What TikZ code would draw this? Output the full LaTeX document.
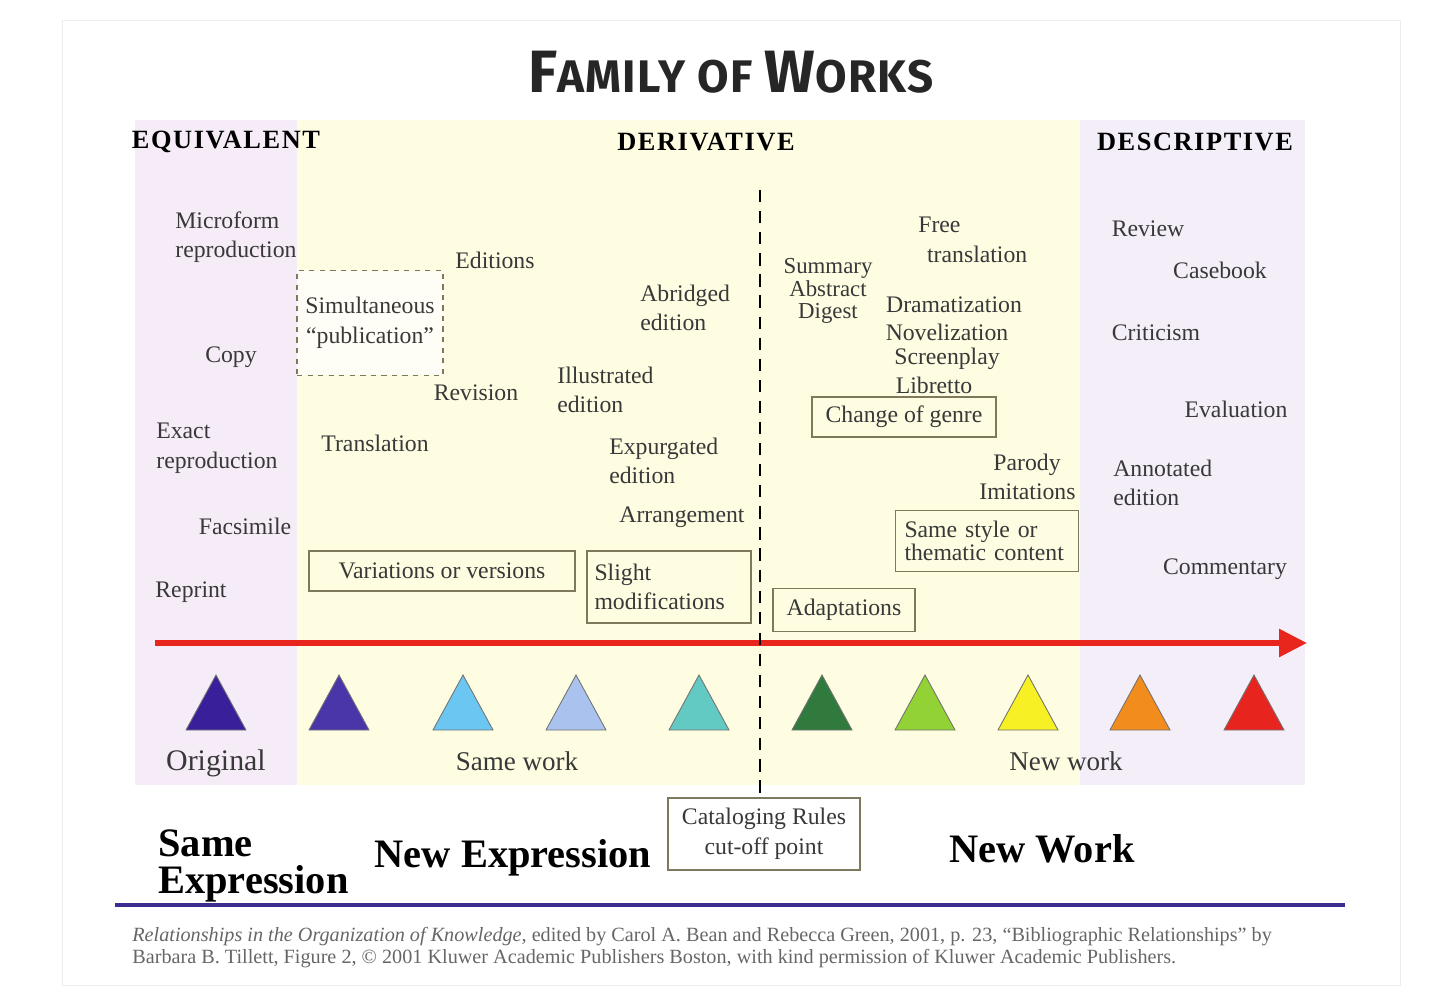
\documentclass[tikz,border=0pt]{standalone}
\usepackage{fontspec}
\setmainfont{Liberation Serif}
\newfontfamily\titlefont[LetterSpace=3]{Fira Sans}
\newfontfamily\hdfont[LetterSpace=6]{Liberation Serif}
\usetikzlibrary{arrows.meta}

\definecolor{equivbg}{HTML}{F5ECF7}
\definecolor{derivbg}{HTML}{FEFDE2}
\definecolor{descrbg}{HTML}{F4EEF8}
\definecolor{boxline}{HTML}{7E785C}
\definecolor{txt}{HTML}{383838}
\definecolor{arrowred}{HTML}{E8261E}
\definecolor{rulepurple}{HTML}{3B2D8F}
\definecolor{triA}{HTML}{3A1F9A}
\definecolor{triB}{HTML}{4A36A8}
\definecolor{triC}{HTML}{6CC6F2}
\definecolor{triD}{HTML}{AAC2EE}
\definecolor{triE}{HTML}{62CAC2}
\definecolor{triF}{HTML}{2F7A3C}
\definecolor{triG}{HTML}{92D234}
\definecolor{triH}{HTML}{F6F024}
\definecolor{triI}{HTML}{F28C1C}
\definecolor{triJ}{HTML}{E8241E}

\begin{document}
\begin{tikzpicture}[x=0.02cm,y=-0.02cm,
    lbl/.style={text=txt,inner sep=0pt,font=\fontsize{13.5}{16.8}\selectfont},
    lblw/.style={lbl,anchor=west,align=left},
    rbox/.style={draw=boxline,line width=0.8pt,text=txt,inner sep=0pt,
        font=\fontsize{13.5}{16.8}\selectfont},
    head/.style={inner sep=0pt,font=\hdfont\bfseries\fontsize{15}{18}\selectfont},
    big/.style={inner sep=0pt,font=\bfseries\fontsize{23}{21.5}\selectfont},
    tri/.style={draw=black!55,line width=0.5pt}]

    \useasboundingbox (0,0) rectangle (1444,990);
    \draw[black!7] (62,20) rectangle (1400,985);

    % backgrounds
    \fill[equivbg] (135,120) rectangle (297,785);
    \fill[derivbg] (297,120) rectangle (1080,785);
    \fill[descrbg] (1080,120) rectangle (1305,785);

    \node[inner sep=0pt,text=black!85] (title) at (731,72) {\titlefont\bfseries
        {\fontsize{34}{34}\selectfont F}{\fontsize{26}{26}\selectfont AMILY OF }{\fontsize{34}{34}\selectfont W}{\fontsize{26}{26}\selectfont ORKS}};

    \node[head] (equiv) at (226,142) {EQUIVALENT};
    \node[head] (deriv) at (706,142) {DERIVATIVE};
    \node[head] (descr) at (1195,142) {DESCRIPTIVE};

    % equivalent
    \node[lblw] (micro) at (175,237) {Microform\\reproduction};
    \node[lbl] (copy) at (231,357) {Copy};
    \node[lblw] (exact) at (156,448) {Exact\\reproduction};
    \node[lbl] (facs) at (245,526) {Facsimile};
    \node[lbl] (reprint) at (191,592) {Reprint};

    % derivative, same work
    \node[rbox,dashed,fill=white!70!derivbg,align=center,minimum width=2.92cm,minimum height=2.1cm] (simul) at (370,323)
        {Simultaneous\\``publication''};
    \node[lbl] (editions) at (495,260) {Editions};
    \node[lbl] (revision) at (476,393) {Revision};
    \node[lbl] (transl) at (375,443) {Translation};
    \node[lblw] (abridged) at (640,308) {Abridged\\edition};
    \node[lblw] (illus) at (557,390) {Illustrated\\edition};
    \node[lblw] (expurg) at (609,461) {Expurgated\\edition};
    \node[lbl] (arrange) at (682,517) {Arrangement};
    \node[rbox,minimum width=5.32cm,minimum height=0.8cm] (variat) at (442,571) {Variations or versions};
    \node[rbox,align=left,minimum width=3.28cm,minimum height=1.44cm,text width=2.98cm] (slight) at (669,587)
        {Slight\\modifications};

    % derivative, new work
    \node[lbl,align=center,font=\fontsize{13}{12.6}\selectfont] (summary) at (828,291) {Summary\\Abstract\\Digest};
    \node[lblw] (free) at (918,240) {Free\\\hspace{5pt}translation};
    \node[lbl] (drama) at (954,305) {Dramatization};
    \node[lbl] (novel) at (947,332) {Novelization};
    \node[lbl] (screen) at (947,359) {Screenplay};
    \node[lbl] (libretto) at (934,385) {Libretto};
    \node[rbox,minimum width=3.68cm,minimum height=0.8cm] (genre) at (904,417) {Change of genre};
    \node[lblw] (parody) at (979,477) {\hspace{8pt}Parody\\Imitations};
    \node[rbox,align=left,minimum width=3.66cm,minimum height=1.22cm,text width=3.3cm,font=\fontsize{13.5}{13.5}\selectfont] (style) at (987,541)
        {Same style or\\thematic content};
    \node[rbox,minimum width=2.84cm,minimum height=0.86cm] (adapt) at (844,610) {Adaptations};

    % descriptive
    \node[lbl] (review) at (1148,229) {Review};
    \node[lbl] (casebook) at (1220,270) {Casebook};
    \node[lbl] (critic) at (1156,333) {Criticism};
    \node[lbl] (evalu) at (1236,409) {Evaluation};
    \node[lblw] (annot) at (1113,483) {Annotated\\edition};
    \node[lbl] (comment) at (1225,569) {Commentary};

    % axis
    \coordinate (axstart) at (155,643);
    \coordinate (axend) at (1307,643);
    \draw[arrowred,line width=3.4pt,-{Triangle[length=0.56cm,width=0.54cm]}] (axstart) -- (axend);

    \filldraw[tri,fill=triA] (186,730) -- (216,675) -- (246,730) -- cycle;
    \filldraw[tri,fill=triB] (309,730) -- (339,675) -- (369,730) -- cycle;
    \filldraw[tri,fill=triC] (433,730) -- (463,675) -- (493,730) -- cycle;
    \filldraw[tri,fill=triD] (546,730) -- (576,675) -- (606,730) -- cycle;
    \filldraw[tri,fill=triE] (669,730) -- (699,675) -- (729,730) -- cycle;
    \filldraw[tri,fill=triF] (792,730) -- (822,675) -- (852,730) -- cycle;
    \filldraw[tri,fill=triG] (895,730) -- (925,675) -- (955,730) -- cycle;
    \filldraw[tri,fill=triH] (998,730) -- (1028,675) -- (1058,730) -- cycle;
    \filldraw[tri,fill=triI] (1110,730) -- (1140,675) -- (1170,730) -- cycle;
    \filldraw[tri,fill=triJ] (1224,730) -- (1254,675) -- (1284,730) -- cycle;

    \node[lbl,font=\fontsize{17}{20}\selectfont] (original) at (216,763) {Original};
    \node[lbl,font=\fontsize{15.4}{18}\selectfont] (samework) at (517,761) {Same work};
    \node[lbl,font=\fontsize{15.4}{18}\selectfont] (newwork) at (1066,761) {New work};

    % bottom
    \node[rbox,fill=white,align=center,minimum width=3.84cm,minimum height=1.44cm] (catalog) at (764,834)
        {Cataloging Rules\\cut-off point};
    \coordinate (cuttop) at (760,190);
    \draw[black,line width=1.6pt,dash pattern=on 7pt off 5pt] (cuttop) -- (catalog.north -| cuttop);

    \node[big,anchor=west,align=left] (sameexpr) at (158,866) {Same\\Expression};
    \node[big] (newexpr) at (513,858) {New Expression};
    \node[big] (newWork) at (1042,849) {New Work};

    \coordinate (rulel) at (115,905);
    \coordinate (ruler) at (1345,905);
    \draw[rulepurple,line width=2.8pt] (rulel) -- (ruler);

    \node[lblw,text=black!60,font=\fontsize{11.5}{12.5}\selectfont] (cite) at (132,948)
        {\textit{Relationships in the Organization of Knowledge,} edited by Carol A. Bean and Rebecca Green, 2001, p. 23, ``Bibliographic Relationships'' by\\
         Barbara B. Tillett, Figure 2, \textcopyright{} 2001 Kluwer Academic Publishers Boston, with kind permission of Kluwer Academic Publishers.};

\end{tikzpicture}
\end{document}
